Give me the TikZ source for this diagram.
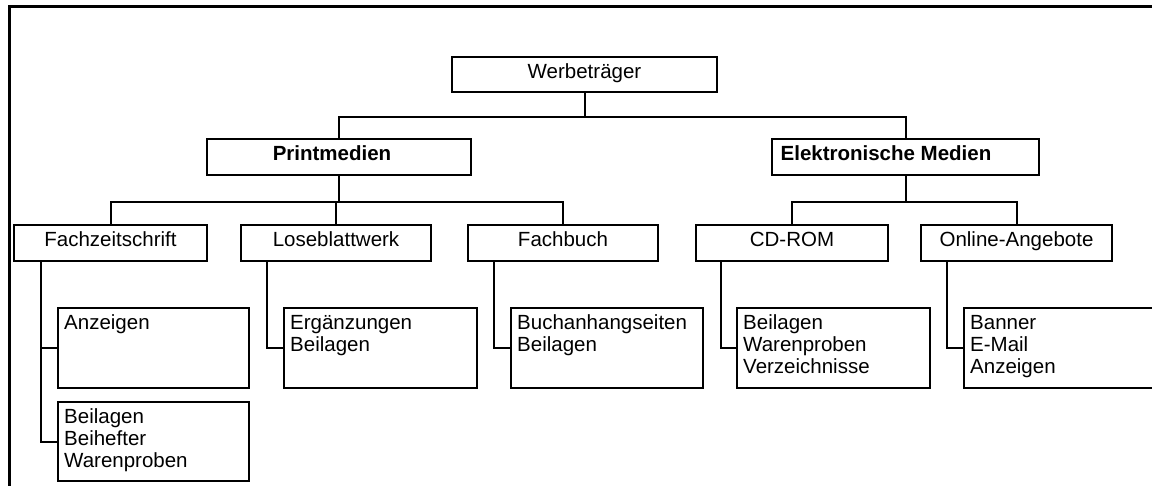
\documentclass[tikz,border=0pt]{standalone}
\usepackage{fontspec}
\setmainfont{Liberation Sans}
\begin{document}
\begin{tikzpicture}[x=1pt, y=-1pt,
  every node/.style={font=\fontsize{20.5}{22}\selectfont},
  box/.style={draw, line width=2pt, inner sep=0pt, minimum height=36pt,
    text height=0.72em, text depth=0pt},
  leaf/.style={draw, line width=2pt, inner sep=0pt, minimum width=192pt, minimum height=80pt},
  leaftext/.style={inner sep=0pt, anchor=base west},
  link/.style={line width=2pt},
  frame/.style={line width=3pt}]
\useasboundingbox (0,0) rectangle (1152,486);
\clip (0,0) rectangle (1152,486);

% outer frame (top and left edge)
\draw[frame] (9,500) -- (9,7) -- (1170,7);

% root
\node[box, minimum width=265pt, minimum height=35pt] (wt) at (584.5,74.5) {Werbeträger};

% second level
\node[box, minimum width=264pt] (pm) at (339,157) {\bfseries Printmedien\hspace*{14pt}};
\node[box, minimum width=267pt] (em) at (905.5,157) {\bfseries Elektronische Medien\hspace*{39pt}};

% third level
\node[box, minimum width=193pt] (fz) at (110.5,243) {Fachzeitschrift};
\node[box, minimum width=190pt] (lb) at (336,243) {Loseblattwerk};
\node[box, minimum width=190pt] (fb) at (563,243) {Fachbuch};
\node[box, minimum width=192pt] (cd) at (792,243) {CD-ROM};
\node[box, minimum width=191pt] (oa) at (1016.5,243) {Online-Angebote};

% leaves
\node[leaf, minimum width=191pt] (anz) at (153.5,348) {};
\node[leaf, minimum width=191pt, minimum height=79pt] (bei) at (153.5,441.5) {};
\node[leaf, minimum width=193pt] (erg) at (380.5,348) {};
\node[leaf] (buch) at (607,348) {};
\node[leaf, minimum width=193pt] (cdl) at (833.5,348) {};
\node[leaf, minimum width=193pt] (onl) at (1060.5,348) {};

\node[leaftext] (anzT) at ([shift={(7pt,-23pt)}]anz.north west) {Anzeigen};
\node[leaftext] (beiT) at ([shift={(7pt,-23pt)}]bei.north west)
  {\begin{tabular}[t]{@{}l@{}}Beilagen\\Beihefter\\Warenproben\end{tabular}};
\node[leaftext] (ergT) at ([shift={(7pt,-23pt)}]erg.north west)
  {\begin{tabular}[t]{@{}l@{}}Ergänzungen\\Beilagen\end{tabular}};
\node[leaftext] (buchT) at ([shift={(7pt,-23pt)}]buch.north west)
  {\begin{tabular}[t]{@{}l@{}}Buchanhangseiten\\Beilagen\end{tabular}};
\node[leaftext] (cdlT) at ([shift={(7pt,-23pt)}]cdl.north west)
  {\begin{tabular}[t]{@{}l@{}}Beilagen\\Warenproben\\Verzeichnisse\end{tabular}};
\node[leaftext] (onlT) at ([shift={(7pt,-23pt)}]onl.north west)
  {\begin{tabular}[t]{@{}l@{}}Banner\\E-Mail\\Anzeigen\end{tabular}};

% root to second level
\draw[link] (wt.south) -- ++(0,24) coordinate (j1);
\draw[link] (pm.north) |- (j1) -| (em.north);

% second to third level
\draw[link] (pm.south) -- ++(0,26) coordinate (j2);
\draw[link] (fz.north) |- (j2) -| (fb.north);
\draw[link] (lb.north) -- (lb.north |- j2);
\draw[link] (em.south) -- ++(0,26) coordinate (j3);
\draw[link] (cd.north) |- (j3) -| (oa.north);

% third level to leaves
\draw[link] ([xshift=28pt]fz.south west) |- (anz.west);
\draw[link] ([xshift=28pt]fz.south west) |- (bei.west);
\draw[link] ([xshift=27pt]lb.south west) |- (erg.west);
\draw[link] ([xshift=27pt]fb.south west) |- (buch.west);
\draw[link] ([xshift=26pt]cd.south west) |- (cdl.west);
\draw[link] ([xshift=27pt]oa.south west) |- (onl.west);
\end{tikzpicture}
\end{document}
